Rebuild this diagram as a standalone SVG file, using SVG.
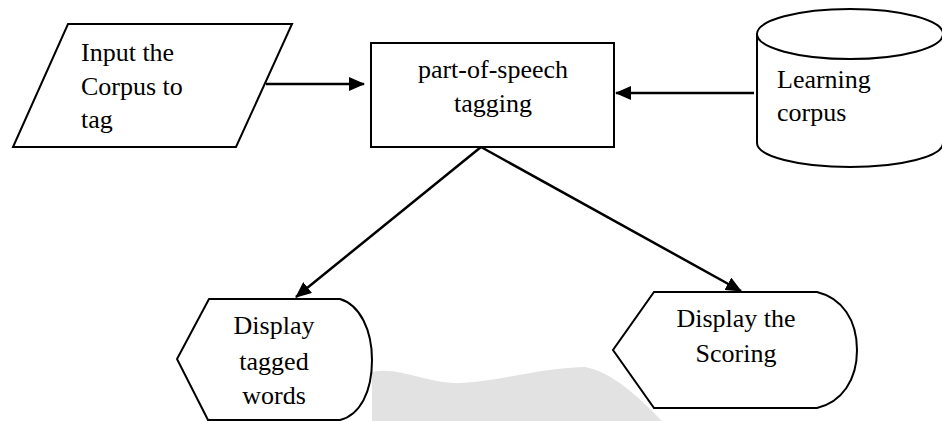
<svg xmlns="http://www.w3.org/2000/svg" width="942" height="421" viewBox="0 0 942 421">
<defs>
<style>
.shape{fill:#fff;stroke:#000;stroke-width:2}
.conn{fill:none;stroke:#000;stroke-width:2.5}
.lbl{font-family:"Liberation Serif","Times New Roman",serif;font-size:26px;fill:#000}
.mid{text-anchor:middle}
</style>
<marker id="arr" markerWidth="16" markerHeight="14" refX="15" refY="7" orient="auto" markerUnits="userSpaceOnUse">
<path d="M0,0 L16,7 L0,14 Z" fill="#000"/>
</marker>
</defs>
<rect width="942" height="421" fill="#fff"/>
<path d="M372,372 C400,366 430,385 462,383 C500,381 540,368 585,367 C612,372 640,398 662,421 L372,421 Z" fill="#e2e2e2"/>
<g id="connectors">
<line class="conn" x1="266" y1="84" x2="364" y2="84" marker-end="url(#arr)"/>
<line class="conn" x1="754" y1="93" x2="616" y2="93" marker-end="url(#arr)"/>
<line class="conn" x1="481" y1="147" x2="296" y2="297" marker-end="url(#arr)"/>
<line class="conn" x1="481" y1="147" x2="741" y2="291" marker-end="url(#arr)"/>
</g>
<g id="input">
<polygon class="shape" points="68,24 292,24 236,147 13,147"/>
<text class="lbl" x="81" y="61">Input the</text>
<text class="lbl" x="81" y="95">Corpus to</text>
<text class="lbl" x="81" y="128">tag</text>
</g>
<g id="tagging">
<rect class="shape" x="371" y="43" width="243" height="104"/>
<text class="lbl mid" x="493" y="78">part-of-speech</text>
<text class="lbl mid" x="493" y="112">tagging</text>
</g>
<g id="learning">
<path class="shape" d="M757,34 L757,143 A93,24 0 0 0 943,143 L943,34"/>
<ellipse class="shape" cx="850" cy="34" rx="93" ry="25"/>
<text class="lbl" x="777" y="88">Learning</text>
<text class="lbl" x="777" y="121">corpus</text>
</g>
<g id="display-words">
<path class="shape" d="M209,299 L340,299 C360,305 372,330 372,360 C372,392 360,415 340,420 L208,420 L177,359 Z"/>
<text class="lbl mid" x="274" y="334">Display</text>
<text class="lbl mid" x="274" y="370">tagged</text>
<text class="lbl mid" x="274" y="404">words</text>
</g>
<g id="display-scoring">
<path class="shape" d="M654,292 L817,292 C842,298 857,320 857,350 C857,380 842,402 817,408 L654,408 L613,350 Z"/>
<text class="lbl mid" x="736" y="327">Display the</text>
<text class="lbl mid" x="736" y="362">Scoring</text>
</g>
</svg>
